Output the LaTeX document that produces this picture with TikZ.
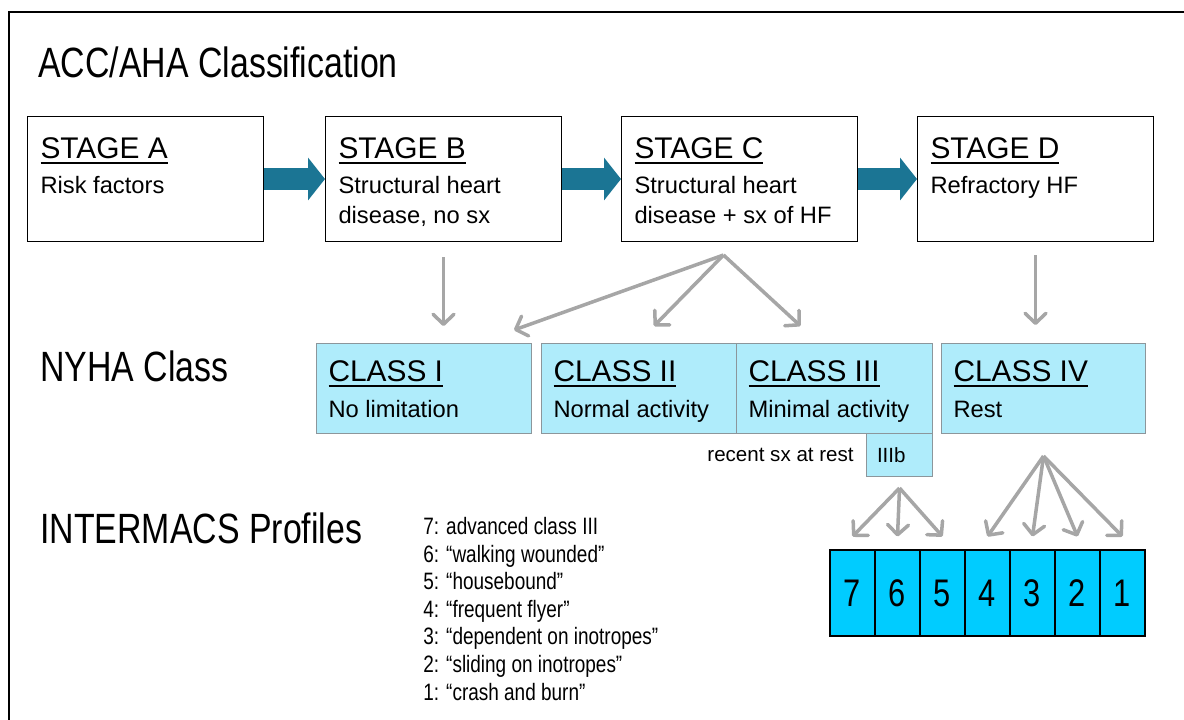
\documentclass[tikz,border=0pt]{standalone}
\usepackage{fontspec}
\setmainfont{Liberation Sans}
\newfontfamily\tallfont{Liberation Sans}[FakeStretch=0.8]
\usepackage{xcolor}
\usepackage{tikz}
\usetikzlibrary{arrows.meta, positioning, calc}

\definecolor{stagearrow}{RGB}{27,117,148}
\definecolor{nyhafill}{RGB}{175,236,251}
\definecolor{nyhaedge}{RGB}{140,150,155}
\definecolor{profilefill}{RGB}{0,204,255}
\definecolor{linkgray}{RGB}{166,166,166}

\newcommand{\uln}[1]{\leavevmode\setbox0\hbox{#1}\rlap{\smash{\rule[-3.4pt]{\wd0}{1.1pt}}}\box0}
\newcommand{\stagetext}[2]{\parbox[t][2.5cm][t]{4.2cm}{\raggedright\vspace*{0.42cm}\uln{\fontsize{17}{20}\selectfont #1}\\[2.8pt]#2}}
\newcommand{\classtext}[3]{\parbox[t][1.8cm][t]{#1}{\raggedright\vspace*{0.34cm}\uln{\fontsize{17}{20}\selectfont #2}\\[3.4pt]#3}}

\tikzset{
	stagebox/.style={draw, line width=0.6pt, fill=white, anchor=north west, inner ysep=0pt, inner xsep=0.26cm, font=\fontsize{13.5}{17}\selectfont},
	classbox/.style={draw=nyhaedge, line width=0.6pt, fill=nyhafill, anchor=north west, inner ysep=0pt, inner xsep=0.24cm, font=\fontsize{13.5}{17}\selectfont},
	stagearr/.style={draw=stagearrow, line width=0.44cm, -{Triangle[length=0.34cm, width=0.84cm]}},
	linkarr/.style={draw=linkgray, line width=2pt, -{Straight Barb[length=0.2cm, width=0.42cm, round]}},
}

\begin{document}
\begin{tikzpicture}[
		x=0.02cm, y=-0.02cm,
		heading/.style={anchor=base west, inner sep=0pt, font=\tallfont\fontsize{24.1}{28}\selectfont},
		cell/.style={draw, line width=0.6pt, fill=profilefill, minimum width=0.9cm, minimum height=1.72cm, inner sep=0pt, font=\tallfont\fontsize{21.9}{24}\selectfont},
	]
	\useasboundingbox (0,0) rectangle (1184,720);
	% Frame
	\draw[line width=1.7pt] (9,720) -- (9,12) -- (1184,12);

	% Row labels
	\node[heading] (accaha) at (38,77) {ACC/AHA Classification};
	\node[heading] (nyha) at (40,381) {NYHA Class};
	\node[heading] (intermacs) at (40,543) {INTERMACS Profiles};

	% Stages
	\node[stagebox] (stA) at (27,116) {\stagetext{STAGE A}{Risk factors}};
	\node[stagebox] (stB) at (325,116) {\stagetext{STAGE B}{Structural heart\\disease, no sx}};
	\node[stagebox] (stC) at (621,116) {\stagetext{STAGE C}{Structural heart\\disease + sx of HF}};
	\node[stagebox] (stD) at (917,116) {\stagetext{STAGE D}{Refractory HF}};

	\draw[stagearr] (stA) -- (stB);
	\draw[stagearr] (stB) -- (stC);
	\draw[stagearr] (stC) -- (stD);

	% NYHA classes
	\node[classbox] (cI) at (316,343) {\classtext{3.82cm}{CLASS I}{No limitation}};
	\node[classbox] (cII) at (541,343) {\classtext{3.42cm}{CLASS II}{Normal activity}};
	\node[classbox] (cIII) at (736,343) {\classtext{3.44cm}{CLASS III}{Minimal activity}};
	\node[classbox] (cIV) at (941,343) {\classtext{3.6cm}{CLASS IV}{Rest}};
	\node[classbox, text width=0.9cm, inner xsep=0.21cm, minimum height=0.86cm, align=left, font=\fontsize{11.7}{14}\selectfont] (cIIIb) at (866,433) {IIIb};
	\node[anchor=base east, inner sep=0pt, font=\fontsize{11.7}{14}\selectfont] (recent) at (854,461) {recent sx at rest};

	% INTERMACS profiles
	\node[anchor=north west, align=left, inner sep=0pt, font=\tallfont\fontsize{13.5}{15.7}\selectfont] (plist) at (423,517) {7: advanced class III\\6: “walking wounded”\\5: “housebound”\\4: “frequent flyer”\\3: “dependent on inotropes”\\2: “sliding on inotropes”\\1: “crash and burn”};
	\foreach \p [count=\i from 0] in {7,6,...,1}
		\node[cell] (p\p) at (852.5+45*\i,593) {\p};

	% Links
	\draw[linkarr, shorten <=0.3cm, shorten >=0.34cm] (stB.south) -- (stB.south |- cI.north);
	\coordinate (cfork) at ([xshift=-0.32cm, yshift=-0.26cm]stC.south);
	\draw[linkarr] (cfork) -- ([xshift=-0.36cm, yshift=0.26cm]cI.north east);
	\draw[linkarr] (cfork) -- ([xshift=0.3cm, yshift=0.34cm]cII.north);
	\draw[linkarr] (cfork) -- ([xshift=-0.68cm, yshift=0.34cm]cIII.north);
	\draw[linkarr, shorten <=0.26cm, shorten >=0.36cm] (stD.south) -- (stD.south |- cIV.north);
	\coordinate (bfork) at ([yshift=-0.22cm]cIIIb.south);
	\foreach \p in {7,6,5}
		\draw[linkarr] (bfork) -- ([yshift=0.26cm]p\p.north);
	\coordinate (dfork) at ([yshift=-0.44cm]cIV.south);
	\foreach \p in {4,...,1}
		\draw[linkarr] (dfork) -- ([yshift=0.26cm]p\p.north);
\end{tikzpicture}
\end{document}
